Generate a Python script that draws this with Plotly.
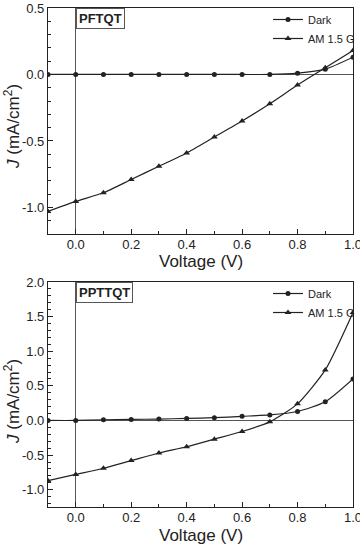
import plotly.graph_objects as go

# ---------------- data ----------------
voltage = [-0.1, 0.0, 0.1, 0.2, 0.3, 0.4, 0.5, 0.6, 0.7, 0.8, 0.9, 1.0]

pftqt_dark = [0.0, 0.0, 0.0, 0.0, 0.0, 0.0, 0.0, 0.0, 0.0, 0.01, 0.04, 0.13]
pftqt_light = [-1.03, -0.955, -0.89, -0.79, -0.69, -0.59, -0.47, -0.35, -0.22, -0.08, 0.05, 0.18]

ppttqt_dark = [0.0, 0.0, 0.01, 0.015, 0.02, 0.03, 0.04, 0.06, 0.08, 0.13, 0.27, 0.6]
ppttqt_light = [-0.87, -0.78, -0.69, -0.58, -0.47, -0.38, -0.27, -0.16, -0.02, 0.24, 0.73, 1.56]

series_names = ["Dark", "AM 1.5 G"]
panel_labels = ["PFTQT", "PPTTQT"]

x_tickvals = [0.0, 0.2, 0.4, 0.6, 0.8, 1.0]
x_ticktext = ["0.0", "0.2", "0.4", "0.6", "0.8", "1.0"]
top_y_tickvals = [0.5, 0.0, -0.5, -1.0]
top_y_ticktext = ["0.5", "0.0", "-0.5", "-1.0"]
bot_y_tickvals = [2.0, 1.5, 1.0, 0.5, 0.0, -0.5, -1.0]
bot_y_ticktext = ["2.0", "1.5", "1.0", "0.5", "0.0", "-0.5", "-1.0"]

W, H = 360, 545
INK = "#222222"
FONT = "Liberation Sans, Arial, sans-serif"

fig = go.Figure()

def add_pair(dark, light, xa, ya, legend):
    fig.add_trace(go.Scatter(
        x=voltage, y=dark, name=series_names[0], xaxis=xa, yaxis=ya, legend=legend,
        mode="lines+markers", line=dict(color=INK, width=1.2, shape="spline", smoothing=0.6),
        marker=dict(symbol="circle", size=5, color=INK)))
    fig.add_trace(go.Scatter(
        x=voltage, y=light, name=series_names[1], xaxis=xa, yaxis=ya, legend=legend,
        mode="lines+markers", line=dict(color=INK, width=1.2, shape="spline", smoothing=0.6),
        marker=dict(symbol="triangle-up", size=6, color=INK)))

add_pair(pftqt_dark, pftqt_light, "x", "y", "legend")
add_pair(ppttqt_dark, ppttqt_light, "x2", "y2", "legend2")

# pixel geometry
def px(xp):
    return xp / W
def py(yp):
    return 1 - yp / H

top_dom = [py(234), py(8)]
bot_dom = [py(507), py(282)]
x_dom = [px(48), px(353)]

axis_common = dict(
    showline=True, linecolor=INK, linewidth=1.2, mirror=True,
    ticks="inside", ticklen=5, tickwidth=1, tickcolor=INK,
    showgrid=False, zeroline=True, zerolinecolor="#555555", zerolinewidth=1,
    tickfont=dict(family=FONT, size=13, color=INK), ticklabeloverflow="allow",
    automargin=False,
)
minor = dict(ticks="inside", dtick=0.1, tick0=0, ticklen=3, tickcolor=INK)

fig.update_layout(
    width=W, height=H, margin=dict(l=0, r=0, t=0, b=0, autoexpand=False),
    paper_bgcolor="white", plot_bgcolor="white",
    font=dict(family=FONT, color=INK),
    xaxis=dict(domain=x_dom, anchor="y", range=[-0.1, 1.0], tickvals=x_tickvals, ticktext=x_ticktext,
               minor=minor, ticklabelstandoff=-2, **axis_common),
    yaxis=dict(domain=top_dom, anchor="x", range=[-1.2, 0.5], tickvals=top_y_tickvals, ticktext=top_y_ticktext,
               minor=minor, **axis_common),
    xaxis2=dict(domain=x_dom, anchor="y2", range=[-0.1, 1.0], tickvals=x_tickvals, ticktext=x_ticktext,
                minor=minor, ticklabelstandoff=-2, **axis_common),
    yaxis2=dict(domain=bot_dom, anchor="x2", range=[-1.25, 2.0], tickvals=bot_y_tickvals, ticktext=bot_y_ticktext,
                minor=minor, **axis_common),
    legend=dict(x=1.0, xanchor="right", y=py(5), yanchor="top", bgcolor="rgba(0,0,0,0)",
                font=dict(family=FONT, size=11, color=INK), itemwidth=30, tracegroupgap=0),
    legend2=dict(x=1.0, xanchor="right", y=py(279), yanchor="top", bgcolor="rgba(0,0,0,0)",
                 font=dict(family=FONT, size=11, color=INK), itemwidth=30, tracegroupgap=0),
    showlegend=True,
)

annotations = []
# panel labels
for lab, xa, ya, ytop in [(panel_labels[0], "x", "y", 0.5), (panel_labels[1], "x2", "y2", 2.0)]:
    annotations.append(dict(
        text="<b>%s</b>" % lab, x=0.0, y=ytop, xref=xa, yref=ya, xanchor="left", yanchor="top",
        showarrow=False, font=dict(family=FONT, size=13, color=INK),
        bordercolor="#555555", borderwidth=1, borderpad=2, bgcolor="white"))
# axis titles
for ycenter in [127, 402]:
    annotations.append(dict(
        text="<i>J</i> (mA/cm<sup>2</sup>)", x=px(12), y=py(ycenter), xref="paper", yref="paper",
        xanchor="center", yanchor="middle",
        textangle=-90, showarrow=False, font=dict(family=FONT, size=17, color=INK)))
for ycenter in [261, 535]:
    annotations.append(dict(
        text="Voltage (V)", x=px(201), y=py(ycenter), xref="paper", yref="paper",
        xanchor="center", yanchor="middle",
        showarrow=False, font=dict(family=FONT, size=17, color=INK)))
fig.update_layout(annotations=annotations)

fig.write_html("out.html")
